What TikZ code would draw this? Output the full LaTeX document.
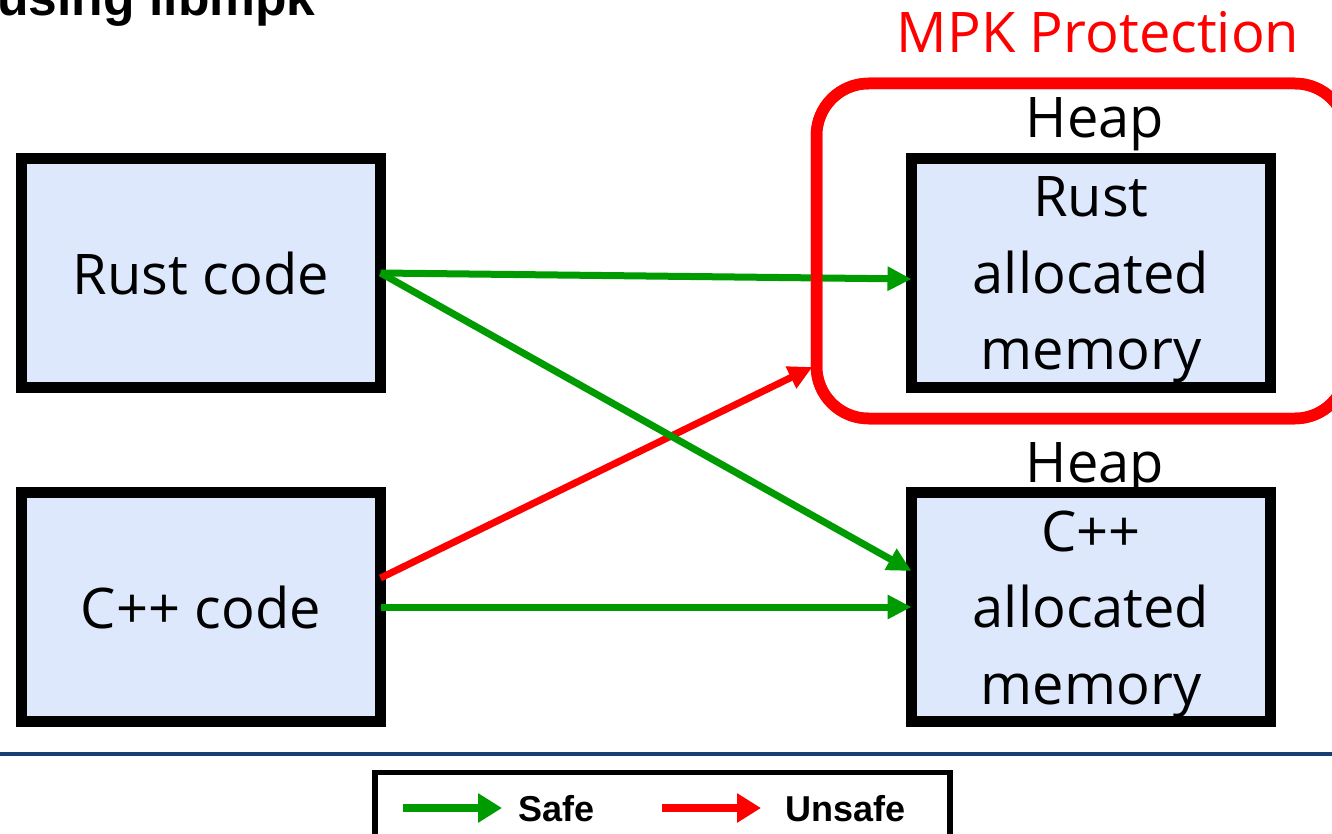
\documentclass[tikz,border=0pt]{standalone}
\usepackage{fontspec}
\setmainfont{Open Sans}
\newfontfamily\headfont{Liberation Sans}
\usetikzlibrary{arrows.meta,calc}
\definecolor{boxfill}{RGB}{221,232,252}
\definecolor{safegreen}{RGB}{0,155,0}
\definecolor{unsafered}{RGB}{255,0,0}
\definecolor{rulenavy}{RGB}{23,64,110}

\begin{document}
\begin{tikzpicture}[x=0.5pt,y=-0.5pt,
  codebox/.style={draw=black, line width=5.5pt, fill=boxfill,
    minimum width=179.5pt, minimum height=114.5pt, outer sep=0pt, inner sep=0pt},
  bigtext/.style={font=\fontsize{28}{38.25}\selectfont, align=center, inner sep=0pt},
  flow/.style={line width=3.5pt, -{Triangle[length=12pt,width=11.5pt]}},
  safe/.style={flow, draw=safegreen},
  unsafe/.style={flow, draw=unsafered},
  keyarrow/.style={line width=4pt, -{Triangle[length=12pt,width=14pt]}},
  keytext/.style={font=\headfont\bfseries\fontsize{18}{22}\selectfont, anchor=base west, inner sep=0pt},
]
\useasboundingbox (0,0) rectangle (1332,834);

% slide title, partly above the page edge
\node[font=\headfont\bfseries\fontsize{25.8}{30}\selectfont, anchor=base west, inner sep=0pt]
  (title) at (-3,16) {using libmpk};

% code and memory boxes
\node[codebox] (rc) at (201,273) {};
\node[bigtext] (rctext) at (rc.center) {Rust code};
\node[codebox] (cc) at (201,607) {};
\node[bigtext] (cctext) at (cc.center) {C++ code};
\node[codebox] (ra) at (1091,273) {};
\node[bigtext] (ratext) at ([yshift=-3.6pt]ra.center) {Rust\\allocated\\memory};
\node[codebox] (ca) at (1091,607) {};
\node[bigtext] (catext) at ([yshift=-3.6pt]ca.center) {C++\\allocated\\memory};

% heap labels
\node[bigtext, anchor=base] (heapa) at (1095,138) {Heap};
\node[bigtext, anchor=base] (heapc) at (1095,482) {Heap};

% protected region
\node[draw=unsafered, line width=5.75pt, rounded corners=26pt,
  minimum width=265.25pt, minimum height=167.5pt, outer sep=0pt, inner sep=0pt]
  (mpk) at (1081.75,251) {};
\node[bigtext, text=unsafered, anchor=base] (mpklabel) at (1098,53) {MPK Protection};

% accesses
\draw[unsafe] ([yshift=14.5pt]cc.east) -- ([xshift=-2pt,yshift=-58pt]mpk.west);
\draw[safe] (rc.east) -- ([yshift=-3pt]ra.west);
\draw[safe] (rc.east) -- ([yshift=18pt]ca.west);
\draw[safe] (cc.east) -- (ca.west);

% redraw the frame over the crossing arrow
\draw[draw=unsafered, line width=5.75pt, rounded corners=26pt]
  (mpk.south west) rectangle (mpk.north east);

% footer rule
\coordinate (ruleL) at (0,754);
\coordinate (ruleR) at (1332,754);
\draw[rulenavy, line width=2pt] (ruleL) -- (ruleR);

% legend
\node[draw=black, line width=2.75pt, minimum width=287.5pt, minimum height=47.5pt,
  outer sep=0pt, inner sep=0pt] (legend) at (662.5,820) {};
\coordinate (safeA) at (403,808);
\coordinate (safeB) at (502,808);
\draw[keyarrow, draw=safegreen] (safeA) -- (safeB);
\node[keytext] (safelbl) at (518,821) {Safe};
\coordinate (unsafeA) at (662,808);
\coordinate (unsafeB) at (761,808);
\draw[keyarrow, draw=unsafered] (unsafeA) -- (unsafeB);
\node[keytext] (unsafelbl) at (785,821) {Unsafe};
\end{tikzpicture}
\end{document}
